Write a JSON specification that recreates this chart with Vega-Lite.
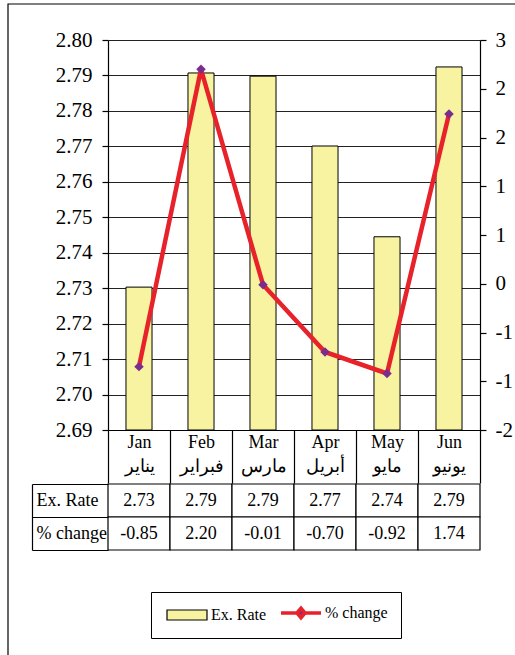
{
  "$schema": "https://vega.github.io/schema/vega-lite/v6.json",
  "padding": {"left": 8, "top": 4, "right": 0, "bottom": 0},
  "spacing": -9,
  "background": "#ffffff",
  "config": {
    "font": "Liberation Serif",
    "locale": {"number": {"decimal": ".", "thousands": ",", "grouping": [3], "currency": ["$", ""], "minus": "-"}},
    "view": {"stroke": null},
    "axis": {"labelFont": "Liberation Serif", "labelColor": "#000000", "domainColor": "#000000", "tickColor": "#000000", "domainWidth": 1.2, "tickWidth": 1.2}
  },
  "datasets": {
    "d": [
      {"month": "Jan يناير", "rate": 2.7303, "pct": -0.85},
      {"month": "Feb فبراير", "rate": 2.7907, "pct": 2.20},
      {"month": "Mar مارس", "rate": 2.7898, "pct": -0.01},
      {"month": "Apr أبريل", "rate": 2.7701, "pct": -0.70},
      {"month": "May مايو", "rate": 2.7445, "pct": -0.92},
      {"month": "Jun يونيو", "rate": 2.7924, "pct": 1.74}
    ],
    "series": [
      {"series": "Ex. Rate"},
      {"series": "% change"}
    ]
  },
  "vconcat": [
    {
      "width": 372,
      "height": 390,
      "layer": [
        {
          "data": {"name": "d"},
          "mark": {"type": "bar", "width": {"band": 0.42}, "fill": "#F7F3A0", "stroke": "#000000", "strokeWidth": 1},
          "encoding": {
            "x": {
              "field": "month", "type": "nominal", "sort": null,
              "scale": {"paddingInner": 0, "paddingOuter": 0},
              "axis": {
                "orient": "bottom", "title": null, "labelAngle": 0,
                "tickBand": "extent", "tickSize": 53,
                "labelExpr": "split(datum.label, ' ')",
                "labelFontSize": 18, "labelLineHeight": 24, "labelPadding": -50, "labelBaseline": "top"
              }
            },
            "y": {
              "field": "rate", "type": "quantitative",
              "scale": {"domain": [2.69, 2.80], "zero": false, "nice": false},
              "axis": {
                "title": null, "orient": "left",
                "values": [2.69, 2.70, 2.71, 2.72, 2.73, 2.74, 2.75, 2.76, 2.77, 2.78, 2.79, 2.80],
                "format": ".2f", "grid": true, "gridColor": "#222222", "gridWidth": 1.2, "gridOpacity": 1,
                "tickSize": 6, "labelPadding": 10, "labelFontSize": 21
              }
            },
            "y2": {"datum": 2.69}
          }
        },
        {
          "data": {"name": "d"},
          "encoding": {
            "x": {"field": "month", "type": "nominal", "sort": null},
            "y": {
              "field": "pct", "type": "quantitative",
              "scale": {"domain": [-1.5, 2.5], "zero": false, "nice": false},
              "axis": {
                "title": null, "orient": "right",
                "values": [-1.5, -1, -0.5, 0, 0.5, 1, 1.5, 2, 2.5],
                "format": ".0f", "grid": false,
                "tickSize": 6, "labelPadding": 9, "labelFontSize": 21
              }
            }
          },
          "layer": [
            {"mark": {"type": "line", "strokeWidth": 4.5, "color": "#E8222A"}},
            {"mark": {"type": "point", "shape": "diamond", "filled": true, "size": 90, "color": "#7B2D8E", "opacity": 1}}
          ]
        },
        {
          "data": {"name": "series"},
          "mark": {"type": "point", "filled": true, "opacity": 0},
          "encoding": {
            "fill": {
              "field": "series", "type": "nominal",
              "scale": {"domain": ["Ex. Rate", "% change"], "range": ["#F7F3A0", "#7B2D8E"]},
              "legend": {"orient": "none", "legendX": 43, "legendY": 552, "direction": "horizontal", "title": null, "strokeColor": "#000000", "fillColor": "#ffffff", "padding": 13, "labelFontSize": 16, "labelFont": "Liberation Serif", "labelColor": "#000000", "columnPadding": 6, "symbolSize": 100, "labelOffset": 31, "symbolOpacity": 1, "symbolFillColor": "#ffffff", "symbolStrokeColor": "#000000"}
            },
            "stroke": {
              "field": "series", "type": "nominal",
              "scale": {"domain": ["Ex. Rate", "% change"], "range": ["#000000", "#E8222A"]},
              "legend": {"orient": "none", "legendX": 43, "legendY": 552, "direction": "horizontal", "title": null, "strokeColor": "#000000", "fillColor": "#ffffff", "padding": 13, "labelFontSize": 16, "labelFont": "Liberation Serif", "labelColor": "#000000", "columnPadding": 6, "symbolSize": 100, "labelOffset": 31, "symbolOpacity": 1, "symbolFillColor": "#ffffff", "symbolStrokeColor": "#000000"}
            },
            "shape": {
              "field": "series", "type": "nominal",
              "scale": {"domain": ["Ex. Rate", "% change"], "range": ["M-1,-1H7V1H-1Z", "M-1,0H2.2M3.8,0H7M2.2,0L3,-0.95L3.8,0L3,0.95Z"]},
              "legend": {"orient": "none", "legendX": 43, "legendY": 552, "direction": "horizontal", "title": null, "strokeColor": "#000000", "fillColor": "#ffffff", "padding": 13, "labelFontSize": 16, "labelFont": "Liberation Serif", "labelColor": "#000000", "columnPadding": 6, "symbolSize": 100, "labelOffset": 31, "symbolOpacity": 1, "symbolFillColor": "#ffffff", "symbolStrokeColor": "#000000"}
            },
            "strokeWidth": {
              "field": "series", "type": "ordinal",
              "scale": {"domain": ["Ex. Rate", "% change"], "range": [1.2, 3.6]},
              "legend": {"orient": "none", "legendX": 43, "legendY": 552, "direction": "horizontal", "title": null, "strokeColor": "#000000", "fillColor": "#ffffff", "padding": 13, "labelFontSize": 16, "labelFont": "Liberation Serif", "labelColor": "#000000", "columnPadding": 6, "symbolSize": 100, "labelOffset": 31, "symbolOpacity": 1, "symbolFillColor": "#ffffff", "symbolStrokeColor": "#000000"}
            }
          }
        },
        {
          "data": {"name": "d"},
          "mark": {"type": "point", "opacity": 0},
          "encoding": {
            "color": {
              "field": "pct", "type": "quantitative",
              "scale": {"range": ["rgba(0,0,0,0)", "rgba(0,0,0,0)"]},
              "legend": {"orient": "none", "legendX": -100, "legendY": -36, "direction": "vertical", "title": null, "gradientLength": 660, "gradientThickness": 520, "gradientStrokeColor": "#000000", "gradientStrokeWidth": 1.2, "labelExpr": "''", "padding": 0}
            }
          }
        }
      ],
      "resolve": {"scale": {"y": "independent"}}
    },
    {
      "width": 372,
      "height": 66,
      "data": {"name": "d"},
      "transform": [{"fold": ["rate", "pct"], "as": ["row", "val"]}],
      "encoding": {
        "x": {"field": "month", "type": "nominal", "sort": null, "scale": {"paddingInner": 0, "paddingOuter": 0}, "axis": null},
        "y": {
          "field": "row", "type": "nominal", "sort": ["rate", "pct"],
          "scale": {"paddingInner": 0, "paddingOuter": 0},
          "axis": {
            "orient": "left", "title": null, "offset": 76,
            "tickBand": "extent", "tickSize": -76,
            "labelExpr": "datum.label == 'rate' ? 'Ex. Rate' : datum.label == 'pct' ? '% change' : ''",
            "labelAlign": "left", "labelPadding": 72, "labelFontSize": 18
          }
        }
      },
      "layer": [
        {"mark": {"type": "rect", "fill": "#ffffff", "stroke": "#000000", "strokeWidth": 1.2}},
        {
          "mark": {"type": "text", "fontSize": 18, "font": "Liberation Serif", "color": "#000000"},
          "encoding": {"text": {"field": "val", "type": "quantitative", "format": ".2f"}}
        }
      ]
    }
  ]
}
